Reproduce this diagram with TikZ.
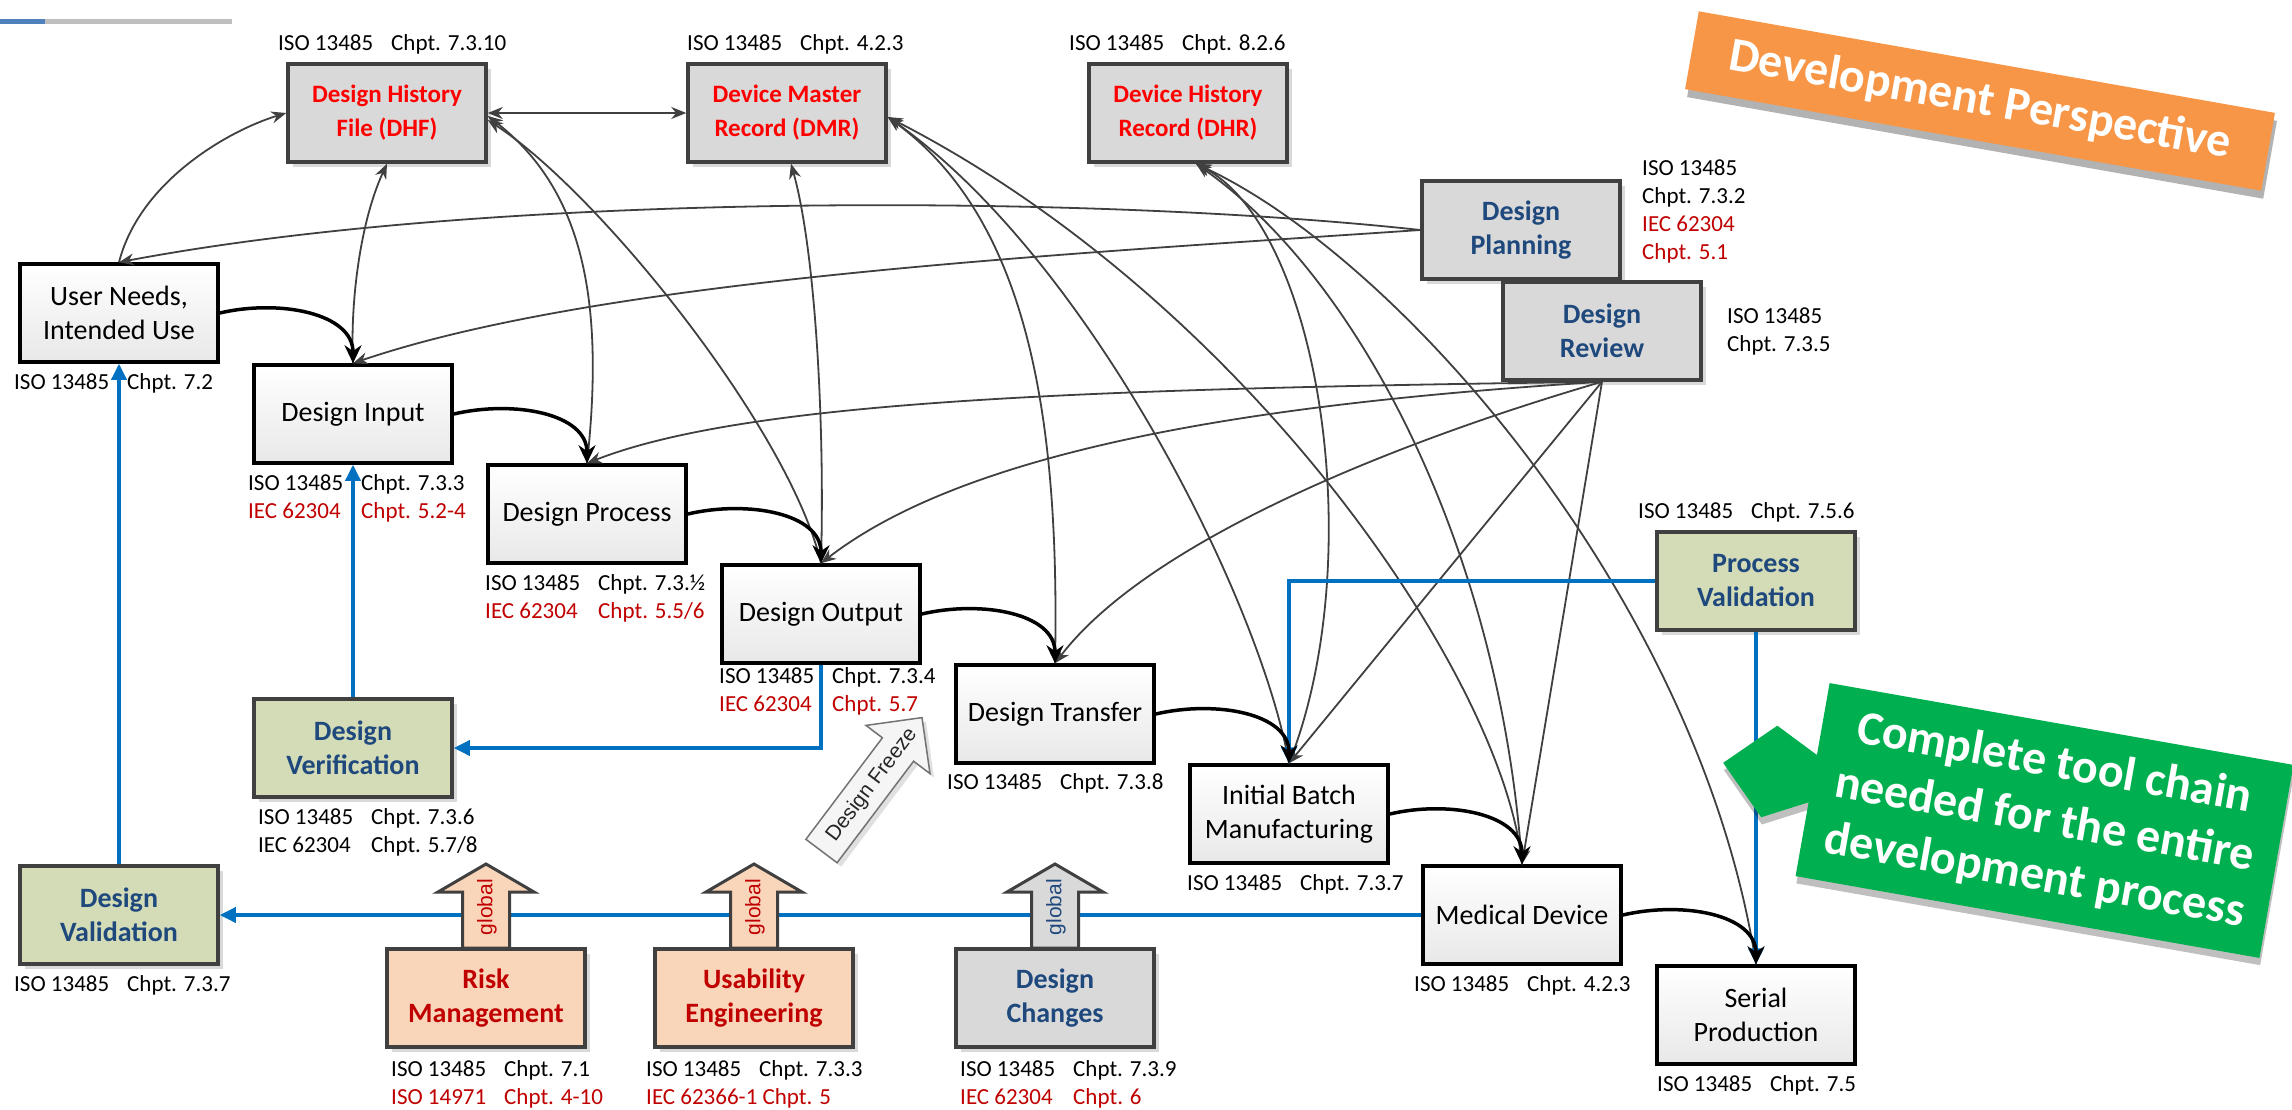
\documentclass[tikz,border=0pt]{standalone}
\usepackage{fontspec}
\setmainfont{Carlito}
\newfontfamily\arialfont{Liberation Sans}
\usetikzlibrary{arrows.meta,shadows,calc}
\definecolor{cGrayBox}{HTML}{D9D9D9}
\definecolor{cBorder}{HTML}{404040}
\definecolor{cOlive}{HTML}{D4DBB7}
\definecolor{cPeach}{HTML}{F9D6BA}
\definecolor{cTBlue}{HTML}{1F497D}
\definecolor{cDRed}{HTML}{C00000}
\definecolor{cLBlue}{HTML}{0070C0}
\definecolor{cOrange}{HTML}{F79646}
\definecolor{cGreen}{HTML}{00B050}
\definecolor{cLine}{HTML}{404040}
\definecolor{cBar}{HTML}{4F81BD}
\newcommand\isolab[2]{\makebox[113pt][l]{#1}#2}
\newcommand\globarrow[4]{%
  \draw[line width=3pt, draw=cBorder, fill=#2] (#1-23.5,948) -- (#1-23.5,892) -- (#1-48,892) -- (#1,864) -- (#1+48,892) -- (#1+23.5,892) -- (#1+23.5,948) -- cycle;
  \node[rotate=90, text=#3, inner sep=0pt, font=\arialfont\fontsize{21}{21}\selectfont] (#4) at (#1+1,907) {global};
}
\tikzset{
  boxbase/.style={minimum width=198pt, minimum height=98pt, inner sep=0pt, align=center, line width=3.5pt},
  wbox/.style={boxbase, draw=black, top color=white, bottom color=black!9, font=\fontsize{28}{34}\selectfont},
  cbox/.style={boxbase, draw=cBorder, font=\bfseries\fontsize{28}{34}\selectfont, drop shadow={shadow xshift=5pt, shadow yshift=-5pt, opacity=0.15, fill=black}},
  recbox/.style={cbox, fill=cGrayBox, text=red, font=\bfseries\fontsize{25}{34}\selectfont},
  graybox/.style={cbox, fill=cGrayBox, text=cTBlue},
  olbox/.style={cbox, fill=cOlive, text=cTBlue},
  pchbox/.style={cbox, fill=cPeach, text=cDRed},
  lab/.style={anchor=west, inner sep=0pt, align=left, font=\fontsize{23}{28}\selectfont},
  gl/.style={draw=cLine, line width=1.8pt, -{Stealth[length=15pt,width=12pt]}},
  glboth/.style={draw=cLine, line width=1.8pt, {Stealth[length=15pt,width=12pt]}-{Stealth[length=15pt,width=12pt]}},
  chain/.style={draw=black, line width=3.5pt, -{Stealth[length=18pt,width=17pt]}},
  bl/.style={draw=cLBlue, line width=3.5pt, -{Triangle[length=16pt,width=15pt]}},
}
\begin{document}
\begin{tikzpicture}[x=1pt,y=-1pt]
\useasboundingbox (0,0) rectangle (2292,1109);
\fill[white] (0,0) rectangle (2292,1109);
% top-left bar
\fill[cBar] (0,19) rectangle (45,24);
\fill[black!25] (45,19) rectangle (232,24);

% ---- nodes: process chain
\node[wbox] (un) at (119,313) {User Needs,\\Intended Use};
\node[wbox] (din) at (353,414) {Design Input};
\node[wbox] (dproc) at (587,514) {Design Process};
\node[wbox] (dout) at (821,614) {Design Output};
\node[wbox] (dtr) at (1055,714) {Design Transfer};
\node[wbox] (ib) at (1289,814) {Initial Batch\\Manufacturing};
\node[wbox] (md) at (1522,915) {Medical Device};
\node[wbox] (sp) at (1756,1015) {Serial\\Production};
% records
\node[recbox] (dhf) at (387,113) {Design History\\File (DHF)};
\node[recbox] (dmr) at (787,113) {Device Master\\Record (DMR)};
\node[recbox] (dhr) at (1188,113) {Device History\\Record (DHR)};
% planning / review
\node[graybox] (dplan) at (1521,230) {Design\\Planning};
\node[graybox] (drev) at (1602,331) {Design\\Review};
% validation boxes
\node[olbox] (pv) at (1756,581) {Process\\Validation};
\node[olbox] (dver) at (353,748) {Design\\Verification};
\node[olbox] (dval) at (119,915) {Design\\Validation};
% global processes
\node[pchbox] (risk) at (486,998) {Risk\\Management};
\node[pchbox] (usab) at (754,998) {Usability\\Engineering};
\node[graybox] (dchg) at (1055,998) {Design\\Changes};

% ---- labels
\node[lab] (ldhf) at (278,44) {\isolab{ISO 13485}{Chpt. 7.3.10}};
\node[lab] (ldmr) at (687,44) {\isolab{ISO 13485}{Chpt. 4.2.3}};
\node[lab] (ldhr) at (1069,44) {\isolab{ISO 13485}{Chpt. 8.2.6}};
\node[lab] (lun) at (14,383) {\isolab{ISO 13485}{Chpt. 7.2}};
\node[lab] (ldin) at (248,498) {\isolab{ISO 13485}{Chpt. 7.3.3}\\\textcolor{cDRed}{\isolab{IEC 62304}{Chpt. 5.2-4}}};
\node[lab] (ldproc) at (485,598) {\isolab{ISO 13485}{Chpt. 7.3.½}\\\textcolor{cDRed}{\isolab{IEC 62304}{Chpt. 5.5/6}}};
\node[lab] (ldout) at (719,691) {\isolab{ISO 13485}{Chpt. 7.3.4}\\\textcolor{cDRed}{\isolab{IEC 62304}{Chpt. 5.7}}};
\node[lab] (ldtr) at (947,783) {\isolab{ISO 13485}{Chpt. 7.3.8}};
\node[lab] (lib) at (1187,884) {\isolab{ISO 13485}{Chpt. 7.3.7}};
\node[lab] (lmd) at (1414,985) {\isolab{ISO 13485}{Chpt. 4.2.3}};
\node[lab] (lsp) at (1657,1085) {\isolab{ISO 13485}{Chpt. 7.5}};
\node[lab] (ldver) at (258,832) {\isolab{ISO 13485}{Chpt. 7.3.6}\\\isolab{IEC 62304}{Chpt. 5.7/8}};
\node[lab] (ldval) at (14,985) {\isolab{ISO 13485}{Chpt. 7.3.7}};
\node[lab] (lrisk) at (391,1084) {\isolab{ISO 13485}{Chpt. 7.1}\\\textcolor{cDRed}{\isolab{ISO 14971}{Chpt. 4-10}}};
\node[lab] (lusab) at (646,1084) {\isolab{ISO 13485}{Chpt. 7.3.3}\\\textcolor{cDRed}{IEC 62366-1 Chpt. 5}};
\node[lab] (ldchg) at (960,1084) {\isolab{ISO 13485}{Chpt. 7.3.9}\\\textcolor{cDRed}{\isolab{IEC 62304}{Chpt. 6}}};
\node[lab] (lpv) at (1638,512) {\isolab{ISO 13485}{Chpt. 7.5.6}};
\node[lab] (ldplan) at (1642,211) {ISO 13485\\Chpt. 7.3.2\\\textcolor{cDRed}{IEC 62304}\\\textcolor{cDRed}{Chpt. 5.1}};
\node[lab] (ldrev) at (1727,331) {ISO 13485\\Chpt. 7.3.5};

% ---- gray connectors to records
\draw[gl] (un.north) .. controls +(21,-82) and +(-56,17) .. (dhf.west);
\draw[gl] (din.north) .. controls +(-3,-64) and +(-26,56) .. (dhf.south);
\draw[glboth] (dhf.east) -- (dmr.west);
\draw[gl] (dproc.north) .. controls +(18,-164) and +(95,73) .. ($(dhf.east)+(0,3)$);
\draw[gl] (dout.north) .. controls +(-31,-133) and +(112,73) .. ($(dhf.east)+(0,7)$);
\draw[gl] (dout.north) .. controls +(4,-143) and +(24,86) .. ($(dmr.south)+(4,0)$);
\draw[gl] (dtr.north) .. controls +(5,-244) and +(141,103) .. ($(dmr.east)+(0,4)$);
\draw[gl] (ib.north) .. controls +(-29,-164) and +(201,141) .. ($(dmr.east)+(0,4)$);
\draw[gl] (md.north) .. controls +(-17,-184) and +(361,185) .. ($(dmr.east)+(0,4)$);
\draw[gl] (ib.north) .. controls +(81,-204) and +(124,65) .. ($(dhr.south)+(8,0)$);
\draw[gl] (md.north) .. controls +(-22,-314) and +(164,115) .. ($(dhr.south)+(8,0)$);
\draw[gl] (sp.north) .. controls +(-56,-364) and +(204,95) .. ($(dhr.south)+(8,0)$);
% planning / review connectors
\draw[gl] (dplan.west) .. controls +(-320,-35) and +(381,-72) .. (un.north);
\draw[gl] (dplan.west) .. controls +(-370,25) and +(247,-84) .. (din.north);
\draw[gl] (drev.south) .. controls +(-502,7) and +(163,-64) .. (dproc.north);
\draw[gl] (drev.south) .. controls +(-302,19) and +(159,-123) .. (dout.north);
\draw[gl] (drev.south) .. controls +(-202,59) and +(95,-124) .. (dtr.north);
\draw[gl] (drev.south) -- (ib.north);
\draw[gl] (drev.south) -- (md.north);

% ---- blue feedback lines
\draw[bl] (dout.south) |- (dver.east);
\draw[bl] (dver.north) -- (din.south);
\draw[bl] (md.west) -- (dval.east);
\draw[bl] (dval.north) -- (un.south);
\draw[bl] (pv.west) -| (ib.north);
\draw[bl] (pv.south) -- (sp.north);

% ---- black chain
\draw[chain] (un.east) .. controls +(60,-14) and +(0,-50) .. (din.north);
\draw[chain] (din.east) .. controls +(60,-14) and +(0,-50) .. (dproc.north);
\draw[chain] (dproc.east) .. controls +(60,-14) and +(0,-50) .. (dout.north);
\draw[chain] (dout.east) .. controls +(60,-14) and +(0,-50) .. (dtr.north);
\draw[chain] (dtr.east) .. controls +(60,-14) and +(0,-50) .. (ib.north);
\draw[chain] (ib.east) .. controls +(60,-14) and +(0,-50) .. (md.north);
\draw[chain] (md.east) .. controls +(60,-14) and +(0,-50) .. (sp.north);

% ---- global arrows
\globarrow{486}{cPeach}{cDRed}{grisk}
\globarrow{754}{cPeach}{cDRed}{gusab}
\globarrow{1055}{cGrayBox}{cTBlue}{gdchg}

% ---- design freeze arrow
\fill[black, opacity=0.12] (809.9,843.3) -- (886.4,741.8) -- (870,729.4) -- (926,721.6) -- (934,777.6) -- (917.6,765.2) -- (841.1,866.7) -- cycle;
\draw[line width=1.5pt, draw=black!55, fill=black!4] (805.9,839.3) -- (882.4,737.8) -- (866,725.4) -- (922,717.6) -- (930,773.6) -- (913.6,761.2) -- (837.1,862.7) -- cycle;
\node[rotate=53, inner sep=0pt, font=\arialfont\fontsize{21}{21}\selectfont, text=black!85] (freeze) at (872,785) {Design Freeze};

% ---- orange banner
\node[rotate=-10, fill=cOrange, minimum width=585pt, minimum height=79pt, inner sep=0pt, text=white, font=\bfseries\fontsize{48}{48}\selectfont, drop shadow={shadow xshift=2pt, shadow yshift=-8pt, opacity=0.3, fill=black}] (persp) at (1980,101) {Development Perspective};

% ---- green callout
\begin{scope}[shift={(2044.5,820.5)}, rotate=-10]
  \fill[black, opacity=0.25] (-233.5,-91) -- (237.5,-91) -- (237.5,105) -- (-233.5,105) -- (-233.5,30) -- (-277.6,53) -- (-324.5,6) -- (-277.6,-40) -- (-233.5,-18) -- cycle;
  \fill[cGreen] (-235.5,-98) -- (235.5,-98) -- (235.5,98) -- (-235.5,98) -- (-235.5,23) -- (-279.6,46) -- (-326.5,-1) -- (-279.6,-47) -- (-235.5,-25) -- cycle;
  \node[rotate=-10, text=white, align=center, inner sep=0pt, font=\bfseries\fontsize{48}{57}\selectfont] (chaintext) at (0,0) {Complete tool chain\\needed for the entire\\development process};
\end{scope}
\end{tikzpicture}
\end{document}
